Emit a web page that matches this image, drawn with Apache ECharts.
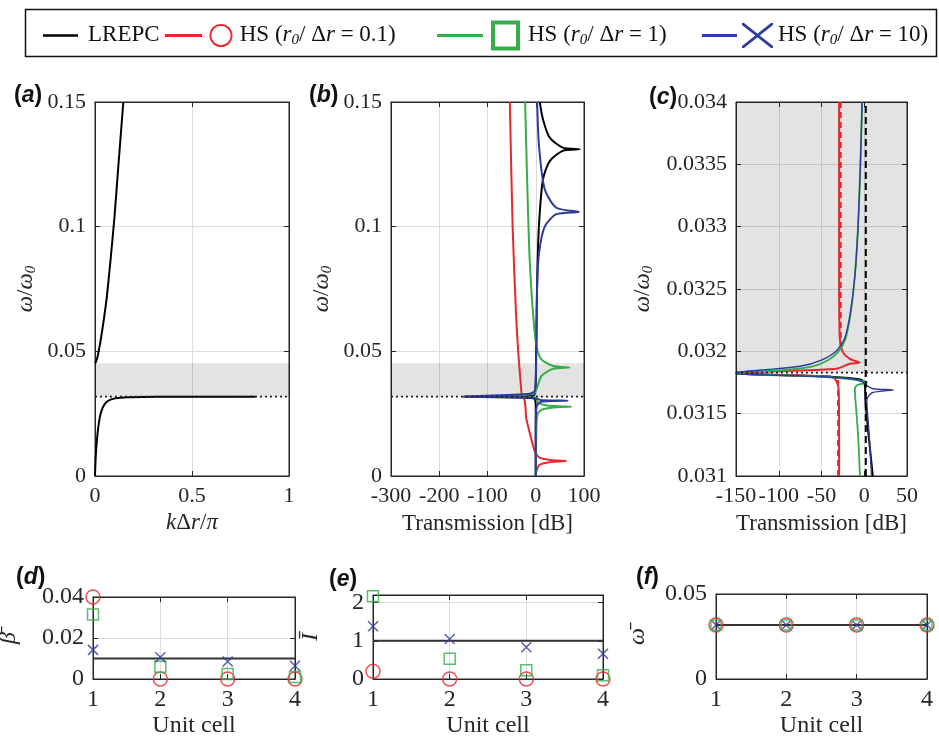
<!DOCTYPE html>
<html>
<head>
<meta charset="utf-8">
<script src="https://cdn.jsdelivr.net/npm/echarts@6/dist/echarts.min.js"></script>
<style>
  html, body { margin: 0; padding: 0; background: #fff; }
  #chart { width: 939px; height: 743px; }
</style>
</head>
<body>
<div id="chart"></div>
<script>
// ---------- data ----------
const gapBand = [0.0318, 0.0452];     // shaded band gap
const resonance = 0.03183;            // dotted line

// (a) dispersion: k dr / pi  vs  w / w0
const dispLowK = [0, 0.004, 0.01, 0.017, 0.025, 0.035, 0.047, 0.06, 0.08, 0.1, 0.13, 0.17, 0.25, 0.4, 0.6, 0.826];
const dispLowW = [0, 0.008, 0.0145, 0.0196, 0.0236, 0.0265, 0.0285, 0.0297, 0.0306, 0.0311, 0.0314, 0.0316, 0.0317, 0.03178, 0.0318, 0.0318];
const dispUpK = [0, 0.005, 0.012, 0.02, 0.03, 0.045, 0.06, 0.08, 0.1, 0.12, 0.146];
const dispUpW = [0.0452, 0.0458, 0.0475, 0.0505, 0.0548, 0.0625, 0.0711, 0.0866, 0.1035, 0.124, 0.15];

// (b) transmission [dB] vs w / w0
const bBlackT = [8.3, 15, 29, 56, 91, 56, 29, 15, 8.3, 4.8, 2.8, 1.4, 0.5, 0, -3, -150, -5, 0, 0];
const bBlackW = [0.15, 0.143, 0.1357, 0.1317, 0.131, 0.1304, 0.1263, 0.119, 0.1056, 0.0923, 0.0762, 0.0588, 0.045, 0.038, 0.0325, 0.0318, 0.0312, 0.028, 0];
const bRedT = [-53.7, -48, -41, -36.5, -29.6, -28.8, -150, -28.5, -19.3, -9, -2, 8, 36, 63, 36, 8, 1.4, 0];
const bRedW = [0.15, 0.1003, 0.0655, 0.0501, 0.0334, 0.03185, 0.03183, 0.0318, 0.0227, 0.0147, 0.010, 0.0074, 0.0063, 0.006, 0.0057, 0.0045, 0.002, 0];
const bGreenT = [-22, -17.9, -13.8, -8.3, -3.4, 1.4, 11.7, 36, 70, 36, 11.7, 2.8, -5.5, -150, -2, 1, 5, 20, 45, 73.5, 45, 15, 4, 1.5, 0.5, 0];
const bGreenW = [0.15, 0.119, 0.0923, 0.0722, 0.0602, 0.0521, 0.0468, 0.0441, 0.0435, 0.043, 0.0401, 0.0354, 0.0328, 0.03183, 0.0316, 0.031, 0.0295, 0.0284, 0.028, 0.0278, 0.0276, 0.0268, 0.025, 0.02, 0.01, 0];
const bBlueT = [2.8, 6.9, 18.6, 42.7, 89.5, 42.7, 18.6, 6.9, 2.8, 1.4, 0, -2, -12, -150, -20, 0, 10, 35, 66, 35, 10, 2, 0, 0];
const bBlueW = [0.15, 0.132, 0.115, 0.1076, 0.1059, 0.105, 0.100, 0.0896, 0.0762, 0.052, 0.0388, 0.0341, 0.033, 0.0318, 0.0316, 0.0311, 0.0305, 0.0303, 0.0302, 0.0301, 0.0297, 0.028, 0.02, 0];

// (c) zoom near the resonance
const cBlackT = [-150, -50, -10, -3, 0, 1, 1.5, 4, 7, 10];
const cBlackW = [0.03182, 0.0318, 0.03178, 0.03177, 0.03175, 0.0317, 0.0316, 0.0314, 0.0312, 0.031];
const cBlackDashT = [1.8, 1.8];
const cBlackDashW = [0.031, 0.034];
const cRedT = [-29.4, -29.4, -28.6, -24.7, -16.9, -5.3, -16.9, -32.5, -102.5, -150, -150, -45, -34.4, -30, -29.5, -29.4];
const cRedW = [0.034, 0.03258, 0.0321, 0.03199, 0.03194, 0.03191, 0.0319, 0.03186, 0.03184, 0.03183, 0.03182, 0.0318, 0.03178, 0.0317, 0.0315, 0.031];
const cRedDashUpT = [-27.5, -27.5];
const cRedDashUpW = [0.034, 0.0320];
const cRedDashLowT = [-30.6, -30.6];
const cRedDashLowW = [0.03177, 0.031];
const cGreenT = [-2.5, -4.5, -7.2, -11.1, -16, -22, -30, -42, -60, -95, -150, -150, -60, -20, 0, 3, -8, -11, -9, -7, -5];
const cGreenW = [0.034, 0.0335, 0.033, 0.0326, 0.0323, 0.0321, 0.032, 0.03193, 0.03188, 0.03185, 0.03183, 0.03182, 0.0318, 0.03178, 0.03176, 0.03175, 0.03173, 0.0317, 0.0315, 0.0313, 0.031];
const cBlueT = [-2.5, -4.5, -7.3, -11, -16.5, -23, -33, -50, -75, -120, -150, -150, -60, -15, -3, 2, 10, 34, 10, 4, 3, 5, 7, 8.5];
const cBlueW = [0.034, 0.0335, 0.033, 0.0326, 0.0323, 0.0321, 0.032, 0.03193, 0.03188, 0.03185, 0.03183, 0.03182, 0.0318, 0.03178, 0.03176, 0.03173, 0.0317, 0.03169, 0.03167, 0.03163, 0.0316, 0.0314, 0.0312, 0.031];

// (d)-(f) per unit cell
const unitCells = [1, 2, 3, 4];
const betaLREPC = [0.01, 0.01, 0.01, 0.01];
const betaHS01 = [0.04, 0, 0, 0];
const betaHS1 = [0.0315, 0.006, 0.0025, 0.001];
const betaHS10 = [0.0142, 0.0106, 0.0085, 0.0065];
const intLREPC = [1, 1, 1, 1];
const intHS01 = [0.2, 0, 0, 0];
const intHS1 = [2.17, 0.53, 0.23, 0.1];
const intHS10 = [1.38, 1.05, 0.83, 0.66];
const freqLREPC = [0.0318, 0.0318, 0.0318, 0.0318];
const freqHS01 = [0.0318, 0.0318, 0.0318, 0.0318];
const freqHS1 = [0.0318, 0.0318, 0.0318, 0.0318];
const freqHS10 = [0.0318, 0.0318, 0.0318, 0.0318];

// ---------- style ----------
const SERIF = '"Liberation Serif", "Times New Roman", serif';
const SANS = '"Liberation Sans", Arial, sans-serif';
const AX = '#262626';
const RED = '#e8262b', GREEN = '#35ad48', BLUE = '#2e3a9c', BLACK = '#000000';

const zip = (xs, ys) => xs.map((x, i) => [x, ys[i]]);
const fmt = v => String(parseFloat(v.toFixed(4)));

// rich text styles with a lowered subscript
function richSet(size, color) {
  return {
    n: { fontFamily: SERIF, fontSize: size, color: color, lineHeight: size + 2, verticalAlign: 'top' },
    i: { fontFamily: SERIF, fontSize: size, fontStyle: 'italic', color: color, lineHeight: size + 2, verticalAlign: 'top' },
    s: { fontFamily: SERIF, fontSize: 15, fontStyle: 'italic', color: color, lineHeight: 16, padding: [size - 8, 0, 0, 0], verticalAlign: 'bottom' }
  };
}

// panel layout: grid [left, top, width, height]
const panels = [
  { grid: [95, 102, 194, 374], x: [0, 1, 0.5], y: [0, 0.15, 0.05], fs: 22, ns: 23,
    xName: '{i|k}{n|Δ}{i|r}{n|/}{i|π}', yName: '{i|ω}{n|/}{i|ω}{s|0}', xGap: 30, yGap: 56 },
  { grid: [391, 102, 193, 374], x: [-300, 100, 100], y: [0, 0.15, 0.05], fs: 22, ns: 23,
    xName: '{n|Transmission [dB]}', yName: '{i|ω}{n|/}{i|ω}{s|0}', xGap: 36, yGap: 56 },
  { grid: [736, 102, 171, 374], x: [-150, 50, 50], y: [0.031, 0.034, 0.0005], fs: 22, ns: 23,
    xName: '{n|Transmission [dB]}', yName: '{i|ω}{n|/}{i|ω}{s|0}', xGap: 36, yGap: 80 },
  { grid: [93, 597, 202, 82], x: [1, 4, 1], y: [0, 0.04, 0.02], fs: 24, ns: 24,
    xName: '{n|Unit cell}', yName: '{i|β\u0304}', xGap: 35, yGap: 70 },
  { grid: [373, 595, 230, 84], x: [1, 4, 1], y: [0, 2.2, 1], fs: 24, ns: 24,
    xName: '{n|Unit cell}', yName: '{i|I\u0304}', xGap: 35, yGap: 48 },
  { grid: [716, 594, 211, 85], x: [1, 4, 1], y: [0, 0.05, 0.05], fs: 24, ns: 24,
    xName: '{n|Unit cell}', yName: '{i|ω\u0304}', xGap: 35, yGap: 64 }
];

const grids = [], xAxes = [], yAxes = [];
panels.forEach((p, gi) => {
  grids.push({ left: p.grid[0], top: p.grid[1], width: p.grid[2], height: p.grid[3],
    outerBoundsMode: 'none', containLabel: false,
    show: true, borderColor: AX, borderWidth: 1, backgroundColor: 'transparent' });
  const xLabel = { show: true, fontFamily: SERIF, fontSize: p.fs, color: AX, margin: 9, formatter: fmt };
  const yLabel = Object.assign({}, xLabel, { showMaxLabel: gi !== 4 });
  const tick = { show: true, inside: true, length: 5, lineStyle: { color: AX } };
  const line = { show: true, onZero: false, lineStyle: { color: AX, width: 1 } };
  const rich = richSet(p.ns, AX);
  xAxes.push({
    type: 'value', gridIndex: gi, position: 'bottom', min: p.x[0], max: p.x[1], interval: p.x[2],
    axisLine: line, axisTick: tick, axisLabel: xLabel,
    splitLine: { show: true, lineStyle: { color: '#dcdcdc', width: 1 } },
    name: p.xName, nameLocation: 'middle', nameGap: p.xGap, nameTextStyle: { rich: rich }
  });
  xAxes.push({
    type: 'value', gridIndex: gi, position: 'top', min: p.x[0], max: p.x[1], interval: p.x[2],
    axisLine: line, axisTick: tick, axisLabel: { show: false }, splitLine: { show: false }
  });
  yAxes.push({
    type: 'value', gridIndex: gi, position: 'left', min: p.y[0], max: p.y[1], interval: p.y[2],
    axisLine: line, axisTick: tick, axisLabel: yLabel,
    splitLine: { show: true, lineStyle: { color: '#dcdcdc', width: 1 } },
    name: p.yName, nameLocation: 'middle', nameGap: p.yGap, nameRotate: 90, nameTextStyle: { rich: rich }
  });
  yAxes.push({
    type: 'value', gridIndex: gi, position: 'right', min: p.y[0], max: p.y[1], interval: p.y[2],
    axisLine: line, axisTick: tick, axisLabel: { show: false }, splitLine: { show: false }
  });
});

const series = [];
function curve(pi, name, xs, ys, color, width, type, z, smooth) {
  series.push({
    type: 'line', name: name, xAxisIndex: 2 * pi, yAxisIndex: 2 * pi,
    data: zip(xs, ys), symbol: 'none', showSymbol: false, silent: true,
    smooth: smooth || 0,
    lineStyle: { color: color, width: width, type: type || 'solid' },
    itemStyle: { color: color }, z: z || 3, clip: true
  });
}
function band(pi, lo, hi) {
  series.push({
    type: 'line', name: 'band', xAxisIndex: 2 * pi, yAxisIndex: 2 * pi, data: [], z: 1, silent: true,
    markArea: { silent: true, itemStyle: { color: 'rgba(0,0,0,0.11)' }, data: [[{ yAxis: lo }, { yAxis: hi }]] }
  });
}
function dotted(pi) {
  const p = panels[pi];
  curve(pi, 'res', [p.x[0], p.x[1]], [resonance, resonance], '#222', 1.8, [2, 3], 10);
}
function markers(pi, name, ys, symbol, size, color) {
  series.push({
    type: 'scatter', name: name, xAxisIndex: 2 * pi, yAxisIndex: 2 * pi,
    data: zip(unitCells, ys), symbol: symbol, symbolSize: size, silent: true, clip: false, z: 5,
    itemStyle: { color: 'rgba(0,0,0,0)', borderColor: color, borderWidth: 1.5 }
  });
}
const XSYM = 'path://M0,0L10,10M10,0L0,10';
const SM = 0.25;

// (a)
band(0, gapBand[0], gapBand[1]);
curve(0, 'LREPC', dispLowK, dispLowW, BLACK, 2, null, 3, SM);
curve(0, 'LREPC', dispUpK, dispUpW, BLACK, 2, null, 3, SM);
dotted(0);
// (b)
band(1, gapBand[0], gapBand[1]);
curve(1, 'LREPC', bBlackT, bBlackW, BLACK, 2, null, 3, SM);
curve(1, 'HS01', bRedT, bRedW, RED, 2, null, 3, SM);
curve(1, 'HS1', bGreenT, bGreenW, GREEN, 2, null, 3, SM);
curve(1, 'HS10', bBlueT, bBlueW, BLUE, 2, null, 3, SM);
dotted(1);
// (c)
band(2, resonance, Math.min(gapBand[1], panels[2].y[1]));
curve(2, 'LREPC', cBlackT, cBlackW, BLACK, 2, null, 3, SM);
curve(2, 'HS01', cRedT, cRedW, RED, 2, null, 3, SM);
curve(2, 'HS01d', cRedDashUpT, cRedDashUpW, RED, 2, [6, 4]);
curve(2, 'HS01d', cRedDashLowT, cRedDashLowW, RED, 2, [6, 4]);
curve(2, 'HS1', cGreenT, cGreenW, GREEN, 1.8, null, 3, SM);
curve(2, 'HS10', cBlueT, cBlueW, BLUE, 1.4, null, 3, SM);
curve(2, 'LREPCd', cBlackDashT, cBlackDashW, BLACK, 2, [7, 4], 8);
dotted(2);
// (d)
curve(3, 'LREPC', unitCells, betaLREPC, '#333', 2);
markers(3, 'HS01', betaHS01, 'circle', 14, RED);
markers(3, 'HS1', betaHS1, 'rect', 11, GREEN);
markers(3, 'HS10', betaHS10, XSYM, 10, BLUE);
// (e)
curve(4, 'LREPC', unitCells, intLREPC, '#333', 2);
markers(4, 'HS01', intHS01, 'circle', 14, RED);
markers(4, 'HS1', intHS1, 'rect', 11, GREEN);
markers(4, 'HS10', intHS10, XSYM, 10, BLUE);
// (f)
curve(5, 'LREPC', unitCells, freqLREPC, '#333', 2);
markers(5, 'HS01', freqHS01, 'circle', 14, RED);
markers(5, 'HS1', freqHS1, 'rect', 10, GREEN);
markers(5, 'HS10', freqHS10, XSYM, 8, BLUE);

// ---------- legend ----------
const legendRich = richSet(23, '#111');
const legendText = {
  LREPC: '{n|LREPC}',
  HS01: '{n|HS (}{i|r}{s|0}{n|/ Δ}{i|r}{n| = 0.1)}',
  HS1: '{n|HS (}{i|r}{s|0}{n|/ Δ}{i|r}{n| = 1)}',
  HS10: '{n|HS (}{i|r}{s|0}{n|/ Δ}{i|r}{n| = 10)}'
};
const iconCircle = 'path://M0,10h37v3h-37z M44.5,11.5 A11.5,11.5 0 1,0 67.5,11.5 A11.5,11.5 0 1,0 44.5,11.5 Z M46.3,11.5 A9.7,9.7 0 1,1 65.7,11.5 A9.7,9.7 0 1,1 46.3,11.5 Z';
const iconSquare = 'path://M0,13.5h46v3h-46z M54,0h29v30h-29z M58,4v22h21v-22z';
const iconCross = 'path://M0,11h35v3h-35z M40,0L42,0L71,23L71,25L69,25L40,2Z M71,0L71,2L42,25L40,25L40,23L69,0Z';
function legendItem(name, color, icon, w, h, left, top, pad) {
  return {
    left: left, top: top, padding: 0, orient: 'horizontal', selectedMode: false,
    itemWidth: w, itemHeight: h,
    data: [{ name: name, icon: icon, itemStyle: { color: color, borderWidth: 0 } }],
    formatter: n => legendText[n],
    textStyle: { rich: legendRich, padding: [0, 0, 0, pad] }
  };
}

const option = {
  animation: false,
  backgroundColor: '#ffffff',
  title: [
    ['a', 14, 84], ['b', 309, 84], ['c', 649, 86], ['d', 16, 566], ['e', 329, 568], ['f', 636, 566]
  ].map(t => ({
    text: '{n|(}{l|' + t[0] + '}{n|)}', left: t[1], top: t[2], padding: 0,
    textStyle: { rich: {
      n: { fontFamily: SANS, fontSize: 23, color: '#111' },
      l: { fontFamily: SANS, fontSize: 23, fontStyle: 'italic', color: '#111' }
    } }
  })),
  legend: [
    legendItem('LREPC', BLACK, 'rect', 35, 2.5, 43, 23, 5),
    legendItem('HS01', RED, iconCircle, 68, 23, 165, 18, 2),
    legendItem('HS1', GREEN, iconSquare, 83, 30, 437, 18, 3),
    legendItem('HS10', BLUE, iconCross, 71, 25, 702, 18, 0)
  ],
  graphic: [{
    type: 'rect', left: 23, top: 7, silent: true,
    shape: { width: 911, height: 47 },
    style: { fill: 'none', stroke: '#111', lineWidth: 1.5 }
  }],
  grid: grids,
  xAxis: xAxes,
  yAxis: yAxes,
  series: series
};

const chart = echarts.init(document.getElementById('chart'), null, { renderer: 'canvas' });
chart.setOption(option);
</script>
</body>
</html>
